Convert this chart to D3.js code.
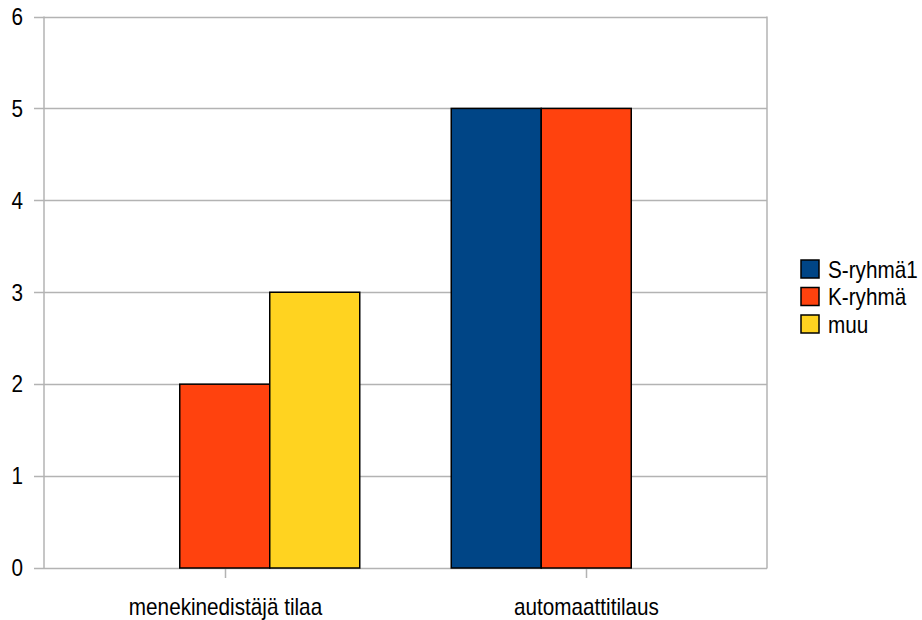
<!DOCTYPE html>
<html>
<head>
<meta charset="utf-8">
<script src="https://cdn.jsdelivr.net/npm/d3@7"></script>
<style>
  html, body { margin: 0; padding: 0; background: #fff; }
  svg { display: block; font-family: "Liberation Sans", Arial, sans-serif; }
</style>
</head>
<body>
<svg id="chart" width="922" height="620"></svg>
<script>
// Category labels along the x axis
const categories = ["menekinedistäjä tilaa", "automaattitilaus"];
// Series names, in legend order
const seriesNames = ["S-ryhmä1", "K-ryhmä", "muu"];
// Values per series (null = no bar)
const sRyhma1 = [null, 5];
const kRyhma = [2, 5];
const muu = [3, null];
const seriesValues = [sRyhma1, kRyhma, muu];
const seriesColors = ["#004586", "#ff420e", "#ffd320"];
const yTicks = [0, 1, 2, 3, 4, 5, 6];

const svg = d3.select("#chart");
const plot = { left: 44, right: 767, top: 16.5, bottom: 568 };
// slightly condensed lettering: taller glyphs, narrower advance
const fontSize = 23;
const squeeze = 0.9;
const place = (x, yy) => `translate(${x},${yy}) scale(${squeeze},1)`;

const y = d3.scaleLinear().domain([0, 6]).range([plot.bottom, plot.top]);
const x0 = d3.scaleBand().domain(categories).range([plot.left, plot.right]).padding(0);
const barW = 90;
const outer = (x0.bandwidth() - barW * seriesNames.length) / 2 / barW;
const x1 = d3.scaleBand().domain(seriesNames).range([0, x0.bandwidth()])
  .paddingInner(0).paddingOuter(outer);

const grid = "#b3b3b3";

// horizontal gridlines
svg.append("g").selectAll("line").data(yTicks).join("line")
  .attr("x1", plot.left - 10).attr("x2", plot.right)
  .attr("y1", d => Math.round(y(d)) + 0.5).attr("y2", d => Math.round(y(d)) + 0.5)
  .attr("stroke", grid).attr("stroke-width", 1.5);

// frame: left and right sides
svg.append("line").attr("x1", plot.left).attr("x2", plot.left)
  .attr("y1", plot.top).attr("y2", plot.bottom)
  .attr("stroke", grid).attr("stroke-width", 1.5);
svg.append("line").attr("x1", plot.right).attr("x2", plot.right)
  .attr("y1", plot.top).attr("y2", plot.bottom + 0.5)
  .attr("stroke", grid).attr("stroke-width", 1.5);

// y tick labels
svg.append("g").selectAll("text").data(yTicks).join("text")
  .attr("transform", d => place(23, y(d)))
  .attr("dy", "0.36em")
  .attr("text-anchor", "end").attr("font-size", fontSize).attr("fill", "#000")
  .text(d => d);

// category ticks and labels
const catG = svg.append("g").selectAll("g").data(categories).join("g")
  .attr("transform", d => `translate(${Math.round(x0(d) + x0.bandwidth() / 2) + 0.5},0)`);
catG.append("line").attr("y1", plot.bottom).attr("y2", plot.bottom + 10)
  .attr("stroke", grid).attr("stroke-width", 1.5);
catG.append("text").attr("transform", place(0, 615)).attr("text-anchor", "middle")
  .attr("font-size", fontSize).attr("fill", "#000").text(d => d);

// bars
const barData = [];
categories.forEach((c, ci) => {
  seriesNames.forEach((s, si) => {
    const v = seriesValues[si][ci];
    if (v != null) barData.push({ c, s, v, color: seriesColors[si] });
  });
});
svg.append("g").selectAll("rect").data(barData).join("rect")
  .attr("x", d => x0(d.c) + x1(d.s))
  .attr("y", d => y(d.v))
  .attr("width", x1.bandwidth())
  .attr("height", d => y(0) - y(d.v))
  .attr("fill", d => d.color)
  .attr("stroke", "#000").attr("stroke-width", 1.5);

// legend
const leg = svg.append("g").selectAll("g").data(seriesNames).join("g")
  .attr("transform", (d, i) => `translate(801,${260 + i * 27.5})`);
leg.append("rect").attr("width", 18).attr("height", 18)
  .attr("fill", (d, i) => seriesColors[i]).attr("stroke", "#000").attr("stroke-width", 1.5);
leg.append("text").attr("transform", place(27, 9.5)).attr("dy", "0.36em")
  .attr("font-size", fontSize).attr("fill", "#000").text(d => d);
</script>
</body>
</html>
